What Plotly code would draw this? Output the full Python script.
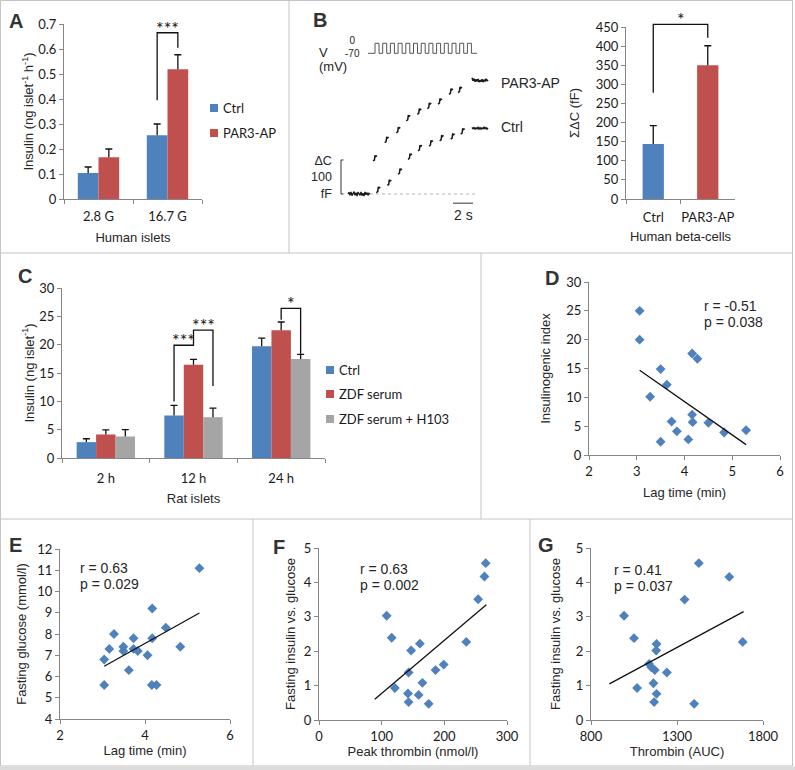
import plotly.graph_objects as go

W, H = 795, 770

# ---------------- data ----------------
# Panel A
a_categories = ["2.8 G", "16.7 G"]
a_ctrl = [0.104, 0.255]
a_ctrl_err = [0.024, 0.045]
a_par3 = [0.167, 0.519]
a_par3_err = [0.033, 0.058]

# Panel B (right)
b_categories = ["Ctrl", "PAR3-AP"]
b_sum_dc = [144, 350]
b_sum_dc_err = [48, 51]

# Panel B (left) capacitance recording, time in s, capacitance in fF
b_base_t = [0.0, 0.1, 0.2, 0.3, 0.4, 0.5, 0.6, 0.7, 0.8, 0.9, 1.0, 1.1,
            1.2, 1.3, 1.4, 1.5, 1.6, 1.7, 1.8, 1.9, 2.0, 2.1, 2.2]
b_base_c = [0, 5, -4, 6, -5, 3, 7, -4, 4, -6, 5, 1, -4, 6, -5, 2, -6, 6, -2, 4, -4, 2, 0]
b_par3_step_t = [2.7, 3.87, 5.03, 6.03, 7.13, 8.13, 9.2, 10.3, 11.2]
b_par3_step_c = [105, 159, 188, 223, 242, 259, 272, 301, 306]
b_ctrl_step_t = [3.03, 4.13, 5.2, 6.2, 7.2, 8.3, 9.37, 10.47, 11.47]
b_ctrl_step_c = [12, 33, 66, 110, 135, 149, 164, 169, 184]
b_plateau_t = [12.4, 12.5, 12.6, 12.7, 12.8, 12.9, 13.0, 13.1, 13.2,
               13.3, 13.4, 13.5, 13.6, 13.7, 13.8, 13.9, 14.0]
b_par3_plateau_c = [342, 333, 339, 330, 337, 331, 338, 329, 335, 330, 337, 329, 336, 331, 339, 332, 336]
b_ctrl_plateau_c = [196, 192, 195, 191, 194, 192, 196, 191, 195, 191, 194, 192, 196, 192, 195, 191, 194]
b_pulse_on = [2.7, 3.47, 4.24, 5.01, 5.78, 6.55, 7.32, 8.09, 8.86, 9.63, 10.4, 11.17, 11.94]
b_pulse_width = 0.4
b_pulse_span = [2.0, 12.9]
b_v_low, b_v_high = -70, 0
b_scale_c = 100   # fF
b_scale_t = 2     # s

# Panel C
c_categories = ["2 h", "12 h", "24 h"]
c_ctrl = [2.8, 7.5, 19.7]
c_ctrl_err = [0.6, 1.8, 1.45]
c_zdf = [4.15, 16.45, 22.55]
c_zdf_err = [0.8, 0.95, 1.45]
c_h103 = [3.8, 7.2, 17.45]
c_h103_err = [1.2, 1.6, 0.85]

# Panel D
d_lag = [3.06, 3.06, 3.50, 3.63, 3.28, 4.16, 4.27, 4.16, 3.73, 4.17, 4.50, 3.84, 4.83, 5.29, 3.50, 4.08]
d_index = [25.0, 20.0, 14.9, 12.2, 10.1, 17.6, 16.7, 7.0, 5.8, 5.7, 5.6, 4.1, 3.9, 4.3, 2.3, 2.7]
d_fit_x = [3.06, 5.29]
d_fit_y = [14.7, 1.8]

# Panel E
e_lag = [5.28, 4.17, 4.49, 3.27, 3.73, 4.17, 3.16, 3.49, 3.49, 3.73, 3.83, 4.83, 4.06, 3.04, 3.62, 3.04, 4.16, 4.27]
e_glucose = [11.1, 9.2, 8.3, 8.0, 7.8, 7.8, 7.3, 7.4, 7.2, 7.3, 7.2, 7.4, 7.0, 6.8, 6.3, 5.6, 5.6, 5.6]
e_fit_x = [3.04, 5.28]
e_fit_y = [6.48, 8.99]

# Panel F
f_peak = [266, 264, 254, 108, 116, 235, 161, 147, 199, 186, 143, 165, 121, 142, 159, 143, 175]
f_insulin = [4.56, 4.17, 3.51, 3.03, 2.39, 2.27, 2.22, 2.02, 1.61, 1.45, 1.38, 1.08, 0.93, 0.77, 0.73, 0.52, 0.47]
f_fit_x = [89, 267]
f_fit_y = [0.60, 3.35]

# Panel G
g_auc = [1427, 1604, 1344, 992, 1050, 1682, 1181, 1179, 1138, 1151, 1171, 1241, 1163, 1068, 1181, 1167, 1400]
g_insulin = [4.56, 4.16, 3.50, 3.03, 2.38, 2.27, 2.21, 2.02, 1.63, 1.53, 1.45, 1.38, 1.07, 0.93, 0.76, 0.52, 0.47]
g_fit_x = [907, 1687]
g_fit_y = [1.05, 3.15]

# ---------------- style ----------------
BLUE = "#4F81BD"
RED = "#C0504D"
GRAY = "#A5A5A5"
AXIS_COLOR = "#868686"
TICK = dict(family="Lato, Open Sans, sans-serif", size=13, color="#1a1a1a")
TITLE = dict(family="Liberation Sans, Arial, sans-serif", size=13, color="#262626")
TEXT = dict(family="Liberation Sans, Arial, sans-serif", size=14, color="#262626")
LABEL = dict(family="Liberation Sans, Arial, sans-serif", size=20, color="#333333")
STAR = dict(family="Lato, sans-serif", size=18, color="#111111")


def fx(px):
    return px / W


def fy(py):
    return 1 - py / H


def lin(p0, p1, v0, v1):
    return lambda v: p0 + (v - v0) * (p1 - p0) / (v1 - v0)


# pixel boxes (left, right, top, bottom) and ranges
BOX = {
    "A": (64, 202, 24, 199), "Bt": (330, 500, 60, 220), "Bv": (330, 500, 40, 57),
    "B": (626, 735, 27, 199), "C": (62, 325, 288, 458), "D": (589, 780, 282, 455),
    "E": (60, 230, 549, 719), "F": (319, 507, 548, 720), "G": (591, 763, 548, 720),
}
XR = {"A": [-0.5, 1.5], "Bt": [-1.8, 15.2], "B": [-0.5, 1.5], "C": [-0.5, 2.5],
      "D": [2, 6], "E": [2, 6], "F": [0, 300], "G": [800, 1800]}
YR = {"A": [0, 0.7], "Bt": [-76.5, 394], "Bv": [-95.9, 23.1], "B": [0, 450], "C": [0, 30],
      "D": [0, 30], "E": [4, 12], "F": [0, 5], "G": [0, 5]}


def xdom(k):
    return [fx(BOX[k][0]), fx(BOX[k][1])]


def ydom(k):
    return [fy(BOX[k][3]), fy(BOX[k][2])]


def pxmap(k):
    l, r, t, b = BOX[k]
    return lin(l, r, XR[k][0], XR[k][1]), lin(b, t, YR[k][0], YR[k][1])


fig = go.Figure()


def bars(x, y, err, color, width, offset, xa, ya, name):
    fig.add_trace(go.Bar(
        x=x, y=y, width=width, offset=offset, marker=dict(color=color, line=dict(width=0)),
        name=name, showlegend=False, xaxis=xa, yaxis=ya,
        error_y=dict(type="data", array=err, arrayminus=[0] * len(err), symmetric=False,
                     color="#111111", thickness=1.3, width=0)))
    # caps on top of the (plus-only) error bars
    fig.add_trace(go.Bar(
        x=x, y=[v + e for v, e in zip(y, err)], width=width, offset=offset,
        marker=dict(color="rgba(0,0,0,0)", line=dict(width=0)), showlegend=False,
        hoverinfo="skip", xaxis=xa, yaxis=ya,
        error_y=dict(type="data", array=[0] * len(err), color="#111111", thickness=1.3, width=3.5)))


# ---- Panel A
bars(a_categories, a_ctrl, a_ctrl_err, BLUE, 0.3, -0.3, "x", "y", "Ctrl")
bars(a_categories, a_par3, a_par3_err, RED, 0.3, 0.0, "x", "y", "PAR3-AP")

# ---- Panel B right
bars(b_categories, b_sum_dc, b_sum_dc_err, [BLUE, RED], 0.39, -0.195, "x4", "y4", "ΣΔC")

# ---- Panel C
bars(c_categories, c_ctrl, c_ctrl_err, BLUE, 0.222, -0.333, "x5", "y5", "Ctrl")
bars(c_categories, c_zdf, c_zdf_err, RED, 0.222, -0.111, "x5", "y5", "ZDF serum")
bars(c_categories, c_h103, c_h103_err, GRAY, 0.222, 0.111, "x5", "y5", "ZDF serum + H103")

# ---- Panel B left: recording
TRACE_COLOR = "#1a1a1a"
fig.add_trace(go.Scatter(x=[b_base_t[-1], b_pulse_span[1]], y=[0, 0], mode="lines",
                         line=dict(color="#b5b5b5", width=1, dash="dot"),
                         xaxis="x2", yaxis="y2", showlegend=False, hoverinfo="skip"))
fig.add_trace(go.Scatter(x=b_base_t, y=b_base_c, mode="lines", line=dict(color=TRACE_COLOR, width=1.4),
                         xaxis="x2", yaxis="y2", showlegend=False))
SQ_DT = [-0.2, -0.06, 0.0, 0.06, 0.2]
SQ_DC = [-8, -5, 9, 5, 8]


def stepped(ts, cs, pt, pc):
    xs, ys = [], []
    for t, c in zip(ts, cs):
        xs += [t + d for d in SQ_DT] + [None]
        ys += [c + d for d in SQ_DC] + [None]
    return xs + pt, ys + pc


for ts, cs, pc, nm in [(b_par3_step_t, b_par3_step_c, b_par3_plateau_c, "PAR3-AP"),
                       (b_ctrl_step_t, b_ctrl_step_c, b_ctrl_plateau_c, "Ctrl")]:
    xs, ys = stepped(ts, cs, b_plateau_t, pc)
    fig.add_trace(go.Scatter(x=xs, y=ys, mode="lines", line=dict(color=TRACE_COLOR, width=1.5),
                             xaxis="x2", yaxis="y2", name=nm, showlegend=False, connectgaps=False))

# voltage pulse train
vx, vy = [b_pulse_span[0]], [b_v_low]
for s in b_pulse_on:
    vx += [s, s, s + b_pulse_width, s + b_pulse_width]
    vy += [b_v_low, b_v_high, b_v_high, b_v_low]
vx.append(b_pulse_span[1])
vy.append(b_v_low)
fig.add_trace(go.Scatter(x=vx, y=vy, mode="lines", line=dict(color="#555555", width=1),
                         xaxis="x2", yaxis="y3", showlegend=False))
# scale bars
fig.add_trace(go.Scatter(x=[-0.45, -0.7, -0.7, -0.45], y=[b_scale_c, b_scale_c, 0, 0], mode="lines",
                         line=dict(color="#333333", width=1), xaxis="x2", yaxis="y2", showlegend=False))
fig.add_trace(go.Scatter(x=[10.5, 10.5 + b_scale_t], y=[-27, -27], mode="lines",
                         line=dict(color="#333333", width=1), xaxis="x2", yaxis="y2", showlegend=False))

# ---- scatter panels
MK = dict(symbol="diamond", size=7.6, color=BLUE, line=dict(width=0))
for xs, ys, fxs, fys, xa, ya in [(d_lag, d_index, d_fit_x, d_fit_y, "x6", "y6"),
                                 (e_lag, e_glucose, e_fit_x, e_fit_y, "x7", "y7"),
                                 (f_peak, f_insulin, f_fit_x, f_fit_y, "x8", "y8"),
                                 (g_auc, g_insulin, g_fit_x, g_fit_y, "x9", "y9")]:
    fig.add_trace(go.Scatter(x=xs, y=ys, mode="markers", marker=MK, xaxis=xa, yaxis=ya,
                             showlegend=False, cliponaxis=False))
    fig.add_trace(go.Scatter(x=fxs, y=fys, mode="lines", line=dict(color="#111111", width=1.3),
                             xaxis=xa, yaxis=ya, showlegend=False))


# ---------------- axes ----------------
def axis(dom, rng, anchor, **kw):
    d = dict(domain=dom, range=rng, anchor=anchor, showgrid=False, zeroline=False, showline=True,
             linecolor=AXIS_COLOR, linewidth=1, ticks="outside", ticklen=4, tickcolor=AXIS_COLOR,
             tickfont=TICK, automargin=False, fixedrange=True)
    d.update(kw)
    return d


def cat_x(k, anchor, title, labelshift, standoff):
    return axis(xdom(k), XR[k], anchor, type="category", tickson="boundaries", tickangle=0,
                ticklabelstandoff=labelshift,
                title=dict(text=title, font=TITLE, standoff=standoff))


def num_y(k, anchor, dtick, title, standoff=4, **kw):
    return axis(ydom(k), YR[k], anchor, dtick=dtick, tick0=YR[k][0],
                title=dict(text=title, font=TITLE, standoff=standoff), **kw)


def num_x(k, anchor, dtick, title, standoff=4):
    return axis(xdom(k), XR[k], anchor, dtick=dtick, tick0=XR[k][0],
                title=dict(text=title, font=TITLE, standoff=standoff))


hidden = dict(visible=False, showgrid=False, zeroline=False, fixedrange=True)

fig.update_layout(
    xaxis=cat_x("A", "y", "Human islets", 5, 10),
    yaxis=num_y("A", "x", 0.1, "Insulin (ng islet<sup>-1</sup> h<sup>-1</sup>)", 1),
    xaxis2=dict(hidden, domain=xdom("Bt"), range=XR["Bt"], anchor="y2"),
    yaxis2=dict(hidden, domain=ydom("Bt"), range=YR["Bt"], anchor="x2"),
    yaxis3=dict(hidden, domain=ydom("Bv"), range=YR["Bv"], anchor="x2"),
    xaxis4=cat_x("B", "y4", "Human beta-cells", 6, 8),
    yaxis4=num_y("B", "x4", 50, "ΣΔC (fF)", 13),
    xaxis5=cat_x("C", "y5", "Rat islets", 8, 9),
    yaxis5=num_y("C", "x5", 5, "Insulin (ng islet<sup>-1</sup>)", 1.5),
    xaxis6=num_x("D", "y6", 1, "Lag time (min)", 10),
    yaxis6=num_y("D", "x6", 5, "Insulinogenic index", 12),
    xaxis7=num_x("E", "y7", 2, "Lag time (min)", 4),
    yaxis7=num_y("E", "x7", 1, "Fasting glucose (mmol/l)", 7),
    xaxis8=num_x("F", "y8", 100, "Peak thrombin (nmol/l)", 4),
    yaxis8=num_y("F", "x8", 1, "Fasting insulin vs. glucose", 5),
    xaxis9=num_x("G", "y9", 500, "Thrombin (AUC)", 4),
    yaxis9=num_y("G", "x9", 1, "Fasting insulin vs. glucose", 12),
    width=W, height=H, margin=dict(l=0, r=0, t=0, b=0),
    plot_bgcolor="white", paper_bgcolor="white", showlegend=False,
    font=dict(family="Liberation Sans, Arial, sans-serif"),
)

shapes = []
annos = []


def pline(pts, color="#111111", width=1.3, dash=None):
    path = "M " + " L ".join(f"{fx(x):.5f},{fy(y):.5f}" for x, y in pts)
    ln = dict(color=color, width=width)
    if dash:
        ln["dash"] = dash
    shapes.append(dict(type="path", path=path, xref="paper", yref="paper", line=ln, layer="above"))


def text(px, py, s, font=TEXT, xanchor="center", yanchor="middle", **kw):
    annos.append(dict(x=fx(px), y=fy(py), xref="paper", yref="paper", text=s, showarrow=False,
                      font=font, xanchor=xanchor, yanchor=yanchor, **kw))


# panel frames
FRAME = "#c4c4c4"
for (x0, y0, x1, y1) in [(0.5, 0.5, 792.5, 0.5), (0.5, 0.5, 0.5, 766), (792.5, 0.5, 792.5, 766),
                         (0.5, 766, 792.5, 766), (289, 0.5, 289, 253), (0.5, 253, 792.5, 253),
                         (481, 253, 481, 519), (0.5, 519, 792.5, 519), (253, 519, 253, 766),
                         (530, 519, 530, 766)]:
    shapes.append(dict(type="line", x0=fx(x0), x1=fx(x1), y0=fy(y0), y1=fy(y1), xref="paper",
                       yref="paper", line=dict(color=FRAME, width=1), layer="below"))
shapes.append(dict(type="rect", x0=0, x1=1, y0=0, y1=fy(766.5), xref="paper", yref="paper",
                   line=dict(width=0), fillcolor="#dcdcdc", layer="below"))

# significance brackets
mx, my = pxmap("A")
pline([(mx(0.85), my(0.395)), (mx(0.85), my(0.665)), (mx(1.15), my(0.665)), (mx(1.15), my(0.605))])
text(mx(1.0), my(0.665) - 5, "***", STAR)

mx, my = pxmap("B")
pline([(mx(0), my(278)), (mx(0), my(457)), (mx(1), my(457)), (mx(1), my(422))])
text(mx(0.5), my(457) - 5, "*", STAR)

mx, my = pxmap("C")
pline([(mx(0.778), my(9.96)), (mx(0.778), my(19.9)), (mx(1.0), my(19.9)), (mx(1.0), my(22.55)),
       (mx(1.222), my(22.55)), (mx(1.222), my(12.7))])
text(mx(0.889), my(19.9) - 5, "***", STAR)
text(mx(1.111), my(22.55) - 5, "***", STAR)
pline([(mx(2.0), my(24.4)), (mx(2.0), my(26.4)), (mx(2.222), my(26.4)), (mx(2.222), my(18.4))])
text(mx(2.111), my(26.4) - 5, "*", STAR)

# legends (manual, Excel-like)
LEG = dict(family="Lato, Open Sans, sans-serif", size=13, color="#1a1a1a")
for py, col, lab in [(108, BLUE, "Ctrl"), (133, RED, "PAR3-AP")]:
    shapes.append(dict(type="rect", x0=fx(210), x1=fx(218), y0=fy(py + 4), y1=fy(py - 4), xref="paper",
                       yref="paper", fillcolor=col, line=dict(width=0)))
    text(221, py, lab, LEG, xanchor="left")
for py, col, lab in [(370, BLUE, "Ctrl"), (394, RED, "ZDF serum"), (419, GRAY, "ZDF serum + H103")]:
    shapes.append(dict(type="rect", x0=fx(326), x1=fx(334), y0=fy(py + 4), y1=fy(py - 4), xref="paper",
                       yref="paper", fillcolor=col, line=dict(width=0)))
    text(337, py, lab, LEG, xanchor="left")

# panel B recording labels
SMALL = dict(family="Liberation Sans, Arial, sans-serif", size=10, color="#262626")
MID = dict(family="Liberation Sans, Arial, sans-serif", size=13, color="#262626")
text(317, 52, "V", MID, xanchor="left")
text(352, 47, "0<br>-70", SMALL, align="center")
text(317, 67, "(mV)", MID, xanchor="left")
text(334, 178, "ΔC<br>100<br>fF", dict(family="Liberation Sans, Arial, sans-serif", size=12.5,
                                          color="#262626"), xanchor="right", align="right")
text(463, 215, "2 s", TEXT)
text(499, 83, "PAR3-AP", TEXT, xanchor="left")
text(499, 127, "Ctrl", TEXT, xanchor="left")

# correlation statistics
text(702, 306, "r = -0.51", TEXT, xanchor="left")
text(702, 322, "p = 0.038", TEXT, xanchor="left")
text(78, 568, "r = 0.63", TEXT, xanchor="left")
text(78, 584, "p = 0.029", TEXT, xanchor="left")
text(358, 569, "r = 0.63", TEXT, xanchor="left")
text(358, 585, "p = 0.002", TEXT, xanchor="left")
text(612, 570, "r = 0.41", TEXT, xanchor="left")
text(612, 586, "p = 0.037", TEXT, xanchor="left")

# panel letters
for px, py, s in [(16, 21, "A"), (320, 20, "B"), (25, 276, "C"), (552, 278, "D"),
                  (15, 545, "E"), (279, 547, "F"), (546, 545, "G")]:
    text(px, py, f"<b>{s}</b>", LABEL)

fig.update_layout(shapes=shapes, annotations=annos)
fig.write_html("out.html", config={"displayModeBar": False},
               post_script="document.body.style.margin='0px';")
